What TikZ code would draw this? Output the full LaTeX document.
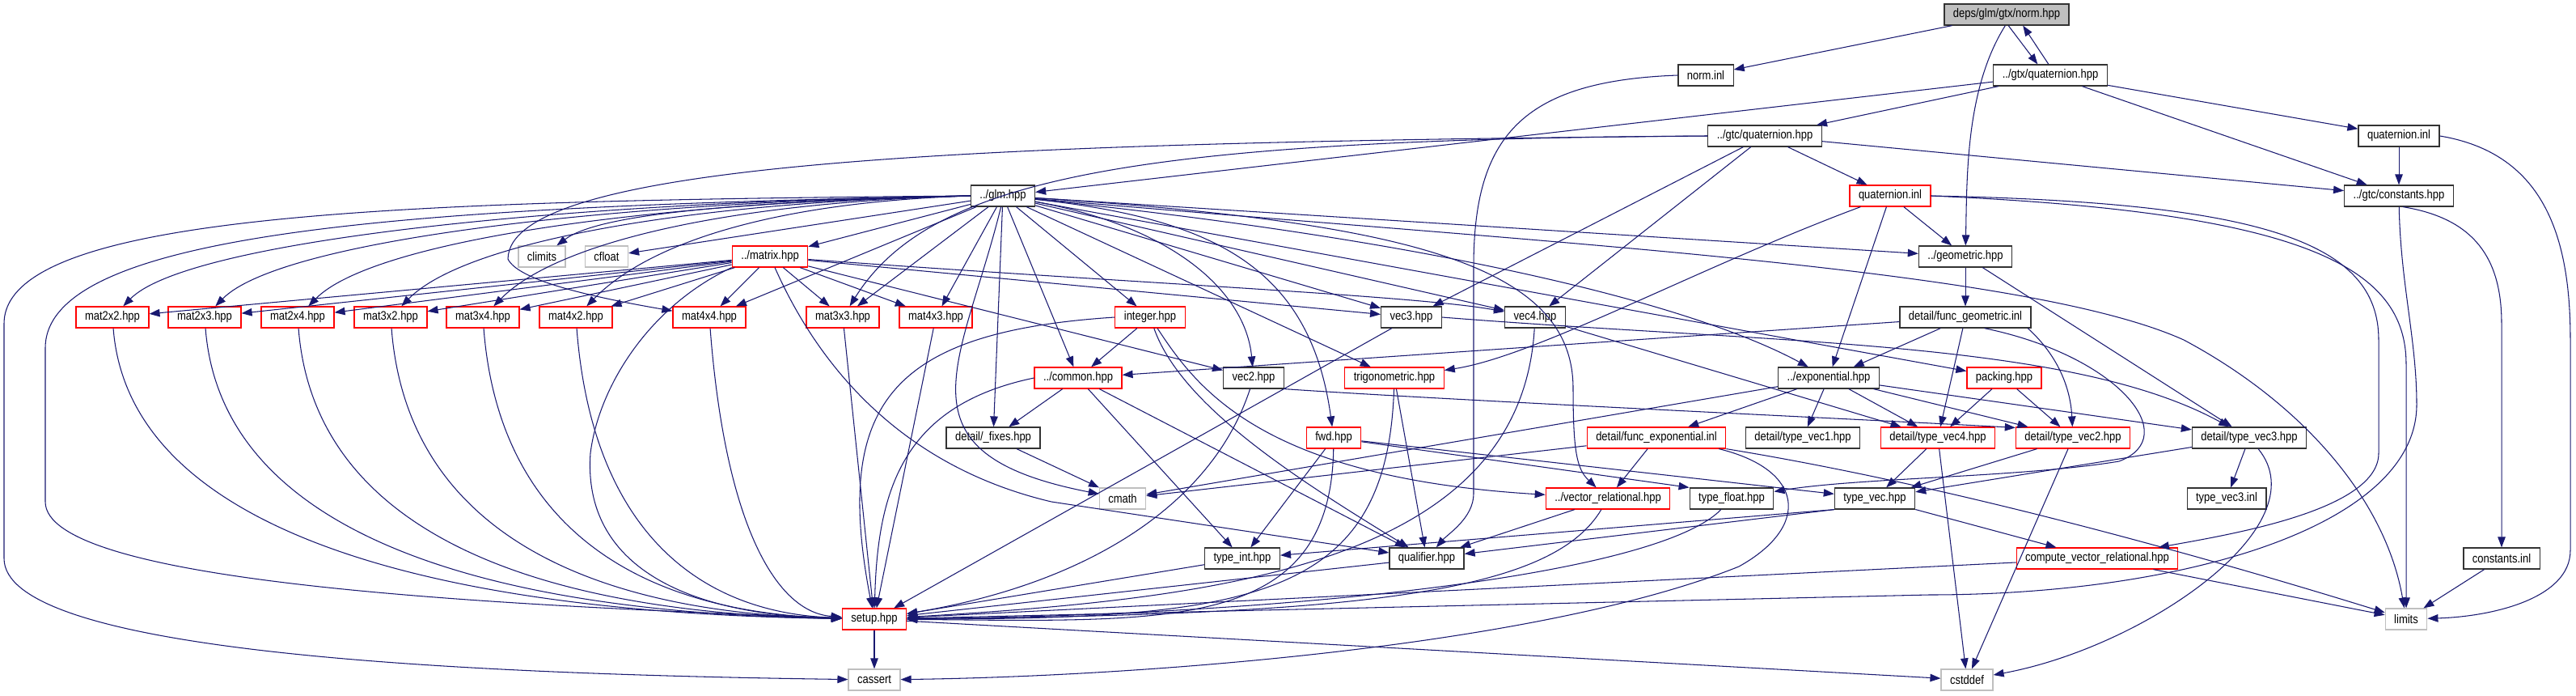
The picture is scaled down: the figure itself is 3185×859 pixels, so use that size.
\documentclass[tikz,border=0pt]{standalone}
\usepackage{fontspec}
\newfontfamily\doxfont{Liberation Sans}[FakeStretch=0.85]
\usetikzlibrary{arrows.meta}
\definecolor{edgeBlue}{HTML}{191970}
\definecolor{boxRed}{HTML}{FF0000}
\definecolor{boxGray}{HTML}{BFBFBF}

\begin{document}
\begin{tikzpicture}[x=0.02cm,y=0.02cm,
  hdr/.style={draw=black!80,line width=0.7pt,fill=white,font=\doxfont\fontsize{8.7}{10}\selectfont,minimum height=0.52cm,inner xsep=0.22cm,inner ysep=0pt},
  hdrred/.style={hdr,draw=boxRed},
  hdrsys/.style={hdr,draw=boxGray},
  hdrroot/.style={hdr,fill=boxGray},
  dep/.style={draw=edgeBlue,line width=0.6pt,-{Triangle[length=0.26cm,width=0.19cm]}}]
\useasboundingbox (0,0) rectangle (3185,-859);
\node[hdrroot] (norm) at (2481,-18) {deps/glm/gtx/norm.hpp};
\node[hdr] (normInl) at (2109,-93) {norm.inl};
\node[hdr] (gtxQuat) at (2535,-93) {../gtx/quaternion.hpp};
\node[hdr] (gtcQuat) at (2182,-168) {../gtc/quaternion.hpp};
\node[hdr] (gtxQuatInl) at (2966,-168) {quaternion.inl};
\node[hdr] (glm) at (1240,-242) {../glm.hpp};
\node[hdrred] (gtcQuatInl) at (2337,-242) {quaternion.inl};
\node[hdr] (constants) at (2966,-242) {../gtc/constants.hpp};
\node[hdrsys] (climits) at (670,-317) {climits};
\node[hdrsys] (cfloat) at (750,-317) {cfloat};
\node[hdrred] (matrix) at (952,-317) {../matrix.hpp};
\node[hdr] (geometric) at (2430,-317) {../geometric.hpp};
\foreach \m/\x in {2x2/139,2x3/253,2x4/368,3x2/483,3x4/597,4x2/712,4x4/877,3x3/1042,4x3/1157}
  \node[hdrred] (mat\m) at (\x,-392) {mat\m.hpp};
\node[hdrred] (integer) at (1422,-392) {integer.hpp};
\node[hdr] (vec3) at (1745,-392) {vec3.hpp};
\node[hdr] (vec4) at (1898,-392) {vec4.hpp};
\node[hdr] (funcGeom) at (2430,-392) {detail/func\_geometric.inl};
\node[hdrred] (common) at (1333,-467) {../common.hpp};
\node[hdr] (vec2) at (1550,-467) {vec2.hpp};
\node[hdrred] (trig) at (1724,-467) {trigonometric.hpp};
\node[hdr] (exponential) at (2261,-467) {../exponential.hpp};
\node[hdrred] (packing) at (2478,-467) {packing.hpp};
\node[hdr] (fixes) at (1228,-541) {detail/\_fixes.hpp};
\node[hdrred] (fwd) at (1649,-541) {fwd.hpp};
\node[hdrred] (funcExp) at (2048,-541) {detail/func\_exponential.inl};
\node[hdr] (typeVec1) at (2229,-541) {detail/type\_vec1.hpp};
\node[hdrred] (typeVec4) at (2396,-541) {detail/type\_vec4.hpp};
\node[hdrred] (typeVec2) at (2563,-541) {detail/type\_vec2.hpp};
\node[hdr] (typeVec3) at (2781,-541) {detail/type\_vec3.hpp};
\node[hdrsys] (cmath) at (1388,-616) {cmath};
\node[hdrred] (vecRel) at (1988,-616) {../vector\_relational.hpp};
\node[hdr] (typeFloat) at (2141,-616) {type\_float.hpp};
\node[hdr] (typeVec) at (2318,-616) {type\_vec.hpp};
\node[hdr] (typeVec3Inl) at (2753,-616) {type\_vec3.inl};
\node[hdr] (typeInt) at (1536,-690) {type\_int.hpp};
\node[hdr] (qualifier) at (1764,-690) {qualifier.hpp};
\node[hdrred] (compVecRel) at (2593,-690) {compute\_vector\_relational.hpp};
\node[hdr] (constInl) at (3093,-690) {constants.inl};
\node[hdrred] (setup) at (1081,-765) {setup.hpp};
\node[hdrsys] (limits) at (2975,-765) {limits};
\node[hdrsys] (cassert) at (1081,-840) {cassert};
\node[hdrsys] (cstddef) at (2432,-840) {cstddef};

\draw[dep] (norm) -- (normInl);
\draw[dep] (norm.-81) -- (gtxQuat.139);
\draw[dep] (gtxQuat.99) -- (norm.-34);
\draw[dep] (norm.-97) .. controls (2430,-110) and (2432,-220) .. (geometric);
\draw[dep] (normInl.west) .. controls (1880,-100) and (1822,-170) .. (1822,-330) -- (1822,-610) .. controls (1822,-640) and (1790,-660) .. (qualifier);
\foreach \t in {glm,gtcQuat,gtxQuatInl,constants} \draw[dep] (gtxQuat) -- (\t);
\draw[dep] (gtcQuat.west) .. controls (1400,-172) and (1150,-220) .. (mat3x3);
\draw[dep] (gtcQuat.west) .. controls (1200,-176) and (630,-200) .. (628,-320) .. controls (640,-345) and (720,-365) .. (mat4x4);
\foreach \t in {vec3,vec4,constants,gtcQuatInl} \draw[dep] (gtcQuat) -- (\t);
\draw[dep] (gtxQuatInl) -- (constants);
\draw[dep] (gtxQuatInl.east) .. controls (3150,-190) and (3178,-300) .. (3178,-420) -- (3178,-680) .. controls (3178,-740) and (3080,-762) .. (limits);
\foreach \t in {geometric,exponential} \draw[dep] (gtcQuatInl) -- (\t);
\draw[dep] (gtcQuatInl) .. controls (2100,-330) and (1900,-440) .. (trig);
\draw[dep] (gtcQuatInl.east) .. controls (2800,-250) and (2941,-300) .. (2941,-420) -- (2941,-560) .. controls (2941,-630) and (2760,-660) .. (compVecRel);
\draw[dep] (gtcQuatInl.east) .. controls (2850,-262) and (2975,-330) .. (2975,-450) -- (limits);
\draw[dep] (constants) .. controls (2968,-350) and (2988,-420) .. (2988,-500) .. controls (2988,-650) and (2700,-735) .. (2385,-735) -- (setup);
\draw[dep] (constants.-70) .. controls (3060,-270) and (3093,-320) .. (3093,-400) -- (constInl);
\draw[dep] (constInl) -- (limits);

\draw[dep] (glm.west) .. controls (500,-248) and (5,-262) .. (5,-400) -- (5,-690) .. controls (5,-800) and (500,-832) .. (cassert);
\draw[dep] (glm.west) .. controls (550,-255) and (56,-280) .. (56,-430) -- (56,-620) .. controls (56,-720) and (600,-748) .. (setup);
\foreach \m/\x in {2x2/139,2x3/253,2x4/368,3x2/483,3x4/597,4x2/712}
  \draw[dep] (glm.west) .. controls ({(1200+\x)/2},-250) and ({\x+90},-300) .. (mat\m);
\foreach \t in {mat4x4,mat3x3,mat4x3,cfloat,matrix,fixes,integer,common,vec3,vec4,trig,packing,geometric}
  \draw[dep] (glm) -- (\t);
\draw[dep] (glm.west) .. controls (900,-250) and (740,-265) .. (climits);
\draw[dep] (glm) .. controls (1450,-280) and (1540,-360) .. (vec2);
\draw[dep] (glm) .. controls (1500,-270) and (1620,-330) .. (fwd);
\draw[dep] (glm) .. controls (1800,-300) and (2100,-380) .. (exponential);
\draw[dep] (glm) .. controls (1750,-275) and (1945,-330) .. (1945,-480) .. controls (1945,-560) and (1950,-580) .. (vecRel);
\draw[dep] (glm.-100) .. controls (1190,-450) and (1100,-560) .. (cmath);
\draw[dep] (glm) .. controls (1900,-300) and (2500,-330) .. (2700,-420) .. controls (2850,-500) and (2950,-620) .. (limits);

\foreach \m in {2x2,2x3,2x4,3x2,3x4,4x2,4x4,3x3,4x3} \draw[dep] (matrix) -- (mat\m);
\foreach \t in {vec2,vec3} \draw[dep] (matrix) -- (\t);
\draw[dep] (matrix) .. controls (1400,-350) and (1750,-365) .. (vec4);
\draw[dep] (matrix) .. controls (1020,-470) and (1130,-580) .. (1300,-620) -- (qualifier);
\draw[dep] (matrix.south west) .. controls (800,-380) and (740,-480) .. (730,-560) .. controls (720,-700) and (850,-760) .. (setup);
\foreach \m/\w in {2x2/560,2x3/500,2x4/430,3x2/360,3x4/290,4x2/220,4x4/120}
  \draw[dep] (mat\m) .. controls +(20,-260) and +(-\w,8) .. (setup);
\foreach \m in {3x3,4x3} \draw[dep] (mat\m) -- (setup);

\draw[dep] (integer) -- (common);
\draw[dep] (integer) .. controls (1460,-500) and (1600,-590) .. (qualifier);
\draw[dep] (integer) .. controls (1480,-480) and (1560,-590) .. (vecRel);
\draw[dep] (integer.west) .. controls (1100,-410) and (1030,-500) .. (setup);
\foreach \t in {fixes,typeInt,qualifier} \draw[dep] (common) -- (\t);
\draw[dep] (common.west) .. controls (1120,-500) and (1085,-600) .. (setup);
\draw[dep] (fixes) -- (cmath);

\draw[dep] (vec2.south east) .. controls (1800,-495) and (2300,-518) .. (typeVec2.170);
\draw[dep] (vec2) .. controls (1500,-620) and (1350,-720) .. (setup);
\draw[dep] (vec3.east) .. controls (2200,-425) and (2560,-420) .. (typeVec3);
\draw[dep] (vec3) -- (setup);
\draw[dep] (vec4) -- (typeVec4);
\draw[dep] (vec4) .. controls (1880,-700) and (1500,-740) .. (setup);
\draw[dep] (trig) -- (qualifier);
\draw[dep] (trig) .. controls (1715,-740) and (1550,-765) .. (setup);
\draw[dep] (fwd) -- (typeInt);
\draw[dep] (fwd) -- (typeFloat.north west);
\draw[dep] (fwd) -- (typeVec);
\draw[dep] (fwd) .. controls (1645,-780) and (1450,-768) .. (setup);

\draw[dep] (geometric) -- (funcGeom);
\draw[dep] (geometric) -- (typeVec3);
\foreach \t in {exponential,common,typeVec4} \draw[dep] (funcGeom) -- (\t);
\draw[dep] (funcGeom.-10) .. controls (2545,-440) and (2560,-480) .. (typeVec2);
\draw[dep] (funcGeom.-30) .. controls (2620,-440) and (2700,-540) .. (2620,-570) .. controls (2500,-590) and (2300,-590) .. (typeFloat);
\foreach \t in {funcExp,typeVec1,typeVec4,typeVec2,typeVec3,cmath} \draw[dep] (exponential) -- (\t);
\foreach \t in {typeVec4,typeVec2} \draw[dep] (packing) -- (\t);

\draw[dep] (funcExp) -- (vecRel);
\draw[dep] (funcExp) -- (cmath);
\draw[dep] (funcExp.south east) .. controls (2400,-598) and (2700,-680) .. (limits);
\draw[dep] (funcExp.-10) .. controls (2230,-580) and (2240,-650) .. (2150,-700) .. controls (1900,-800) and (1400,-836) .. (cassert);
\draw[dep] (vecRel) -- (qualifier);
\draw[dep] (vecRel) .. controls (1920,-730) and (1700,-760) .. (setup);
\draw[dep] (typeFloat) .. controls (2050,-710) and (1600,-760) .. (setup);
\draw[dep] (typeVec.south west) -- (qualifier);
\draw[dep] (typeVec.south west) -- (typeInt);
\draw[dep] (typeVec) -- (compVecRel);
\foreach \t in {typeVec4,typeVec2,typeVec3} \draw[dep] (\t) -- (typeVec);
\draw[dep] (typeVec3) -- (typeVec3Inl);
\draw[dep] (typeVec4) -- (cstddef);
\draw[dep] (typeVec2) -- (cstddef);
\draw[dep] (typeVec3) .. controls (2870,-650) and (2650,-800) .. (cstddef);
\foreach \t in {typeInt,qualifier,compVecRel} \draw[dep] (\t) -- (setup);
\draw[dep] (compVecRel) -- (limits);
\draw[dep] (setup) -- (cassert);
\draw[dep] (setup) -- (cstddef);
\end{tikzpicture}
\end{document}
